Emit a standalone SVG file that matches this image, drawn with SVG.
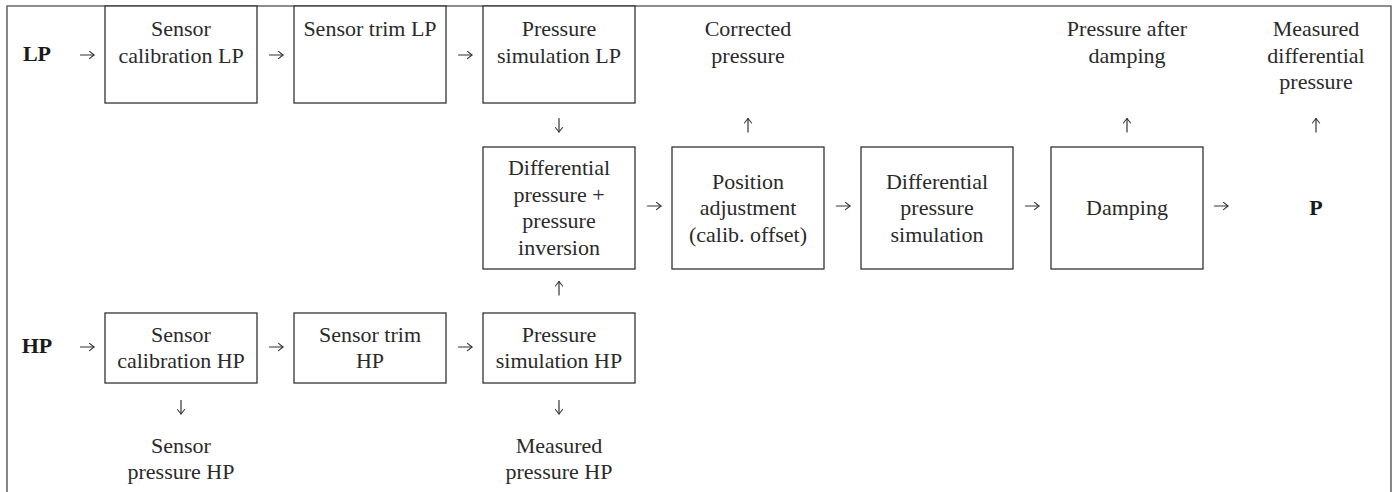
<svg xmlns="http://www.w3.org/2000/svg" width="1397" height="492" viewBox="0 0 1397 492">
<style>
.box{fill:#fff;stroke:#333;stroke-width:1.3}
.t{font-family:"Liberation Serif","Times New Roman",serif;font-size:22px;fill:#2a2a2a;text-anchor:middle}
.b{font-weight:bold;fill:#1a1a1a}
.frame{fill:none;stroke:#6a6a6a;stroke-width:1.6}
.arr{fill:none;stroke:#333;stroke-width:1.2;stroke-linecap:round;stroke-linejoin:round}
</style>
<defs>
<marker id="head" viewBox="0 0 10 10" refX="9" refY="5" markerWidth="9" markerHeight="9" markerUnits="userSpaceOnUse" orient="auto">
<path d="M4,1 L9,5 L4,9" fill="none" stroke="#333" stroke-width="1.2" stroke-linecap="round" stroke-linejoin="round"/>
</marker>
</defs>
<path class="frame" d="M7,492 V6 H1391 V492"/>

<g id="lp"><text class="t b" x="37" y="61">LP</text></g>
<g id="hp"><text class="t b" x="37" y="353">HP</text></g>

<g id="cal-lp"><rect class="box" x="105" y="6" width="152" height="97"/>
<text class="t" x="181" y="36">Sensor</text><text class="t" x="181" y="62.5">calibration LP</text></g>
<g id="trim-lp"><rect class="box" x="294" y="6" width="152" height="97"/>
<text class="t" x="370" y="36">Sensor trim LP</text></g>
<g id="sim-lp"><rect class="box" x="483" y="6" width="152" height="97"/>
<text class="t" x="559" y="36">Pressure</text><text class="t" x="559" y="62.5">simulation LP</text></g>

<g id="corrected"><text class="t" x="748" y="36">Corrected</text><text class="t" x="748" y="62.5">pressure</text></g>
<g id="after-damping"><text class="t" x="1127" y="36">Pressure after</text><text class="t" x="1127" y="62.5">damping</text></g>
<g id="measured-dp"><text class="t" x="1316" y="36">Measured</text><text class="t" x="1316" y="62.5">differential</text><text class="t" x="1316" y="89">pressure</text></g>

<g id="dp-inv"><rect class="box" x="483" y="147" width="152" height="122"/>
<text class="t" x="559" y="175">Differential</text><text class="t" x="559" y="201.5">pressure +</text><text class="t" x="559" y="228">pressure</text><text class="t" x="559" y="254.5">inversion</text></g>
<g id="position"><rect class="box" x="672" y="147" width="152" height="122"/>
<text class="t" x="748" y="188.5">Position</text><text class="t" x="748" y="215">adjustment</text><text class="t" x="748" y="241.5">(calib. offset)</text></g>
<g id="dp-sim"><rect class="box" x="861" y="147" width="152" height="122"/>
<text class="t" x="937" y="188.5">Differential</text><text class="t" x="937" y="215">pressure</text><text class="t" x="937" y="241.5">simulation</text></g>
<g id="damping"><rect class="box" x="1051" y="147" width="152" height="122"/>
<text class="t" x="1127" y="215">Damping</text></g>
<g id="p"><text class="t b" x="1316" y="215">P</text></g>

<g id="cal-hp"><rect class="box" x="105" y="313" width="152" height="70"/>
<text class="t" x="181" y="341.5">Sensor</text><text class="t" x="181" y="368">calibration HP</text></g>
<g id="trim-hp"><rect class="box" x="294" y="313" width="152" height="70"/>
<text class="t" x="370" y="341.5">Sensor trim</text><text class="t" x="370" y="368">HP</text></g>
<g id="sim-hp"><rect class="box" x="483" y="313" width="152" height="70"/>
<text class="t" x="559" y="341.5">Pressure</text><text class="t" x="559" y="368">simulation HP</text></g>

<g id="sensor-pressure-hp"><text class="t" x="181" y="452.5">Sensor</text><text class="t" x="181" y="479">pressure HP</text></g>
<g id="measured-hp"><text class="t" x="559" y="452.5">Measured</text><text class="t" x="559" y="479">pressure HP</text></g>

<g id="connectors" class="arr">
<path d="M80.5,55 H94" marker-end="url(#head)"/>
<path d="M269.5,55 H283" marker-end="url(#head)"/>
<path d="M458.5,55 H472" marker-end="url(#head)"/>
<path d="M559,118.5 V132" marker-end="url(#head)"/>
<path d="M748,132 V118.5" marker-end="url(#head)"/>
<path d="M1127,132 V118.5" marker-end="url(#head)"/>
<path d="M1316,132 V118.5" marker-end="url(#head)"/>
<path d="M647.5,206 H661" marker-end="url(#head)"/>
<path d="M836.5,206 H850" marker-end="url(#head)"/>
<path d="M1025.5,206 H1039" marker-end="url(#head)"/>
<path d="M1214.5,206 H1228" marker-end="url(#head)"/>
<path d="M559,295 V281.5" marker-end="url(#head)"/>
<path d="M80.5,347 H94" marker-end="url(#head)"/>
<path d="M269.5,347 H283" marker-end="url(#head)"/>
<path d="M458.5,347 H472" marker-end="url(#head)"/>
<path d="M181,400.5 V414" marker-end="url(#head)"/>
<path d="M559,400.5 V414" marker-end="url(#head)"/>
</g>
</svg>
